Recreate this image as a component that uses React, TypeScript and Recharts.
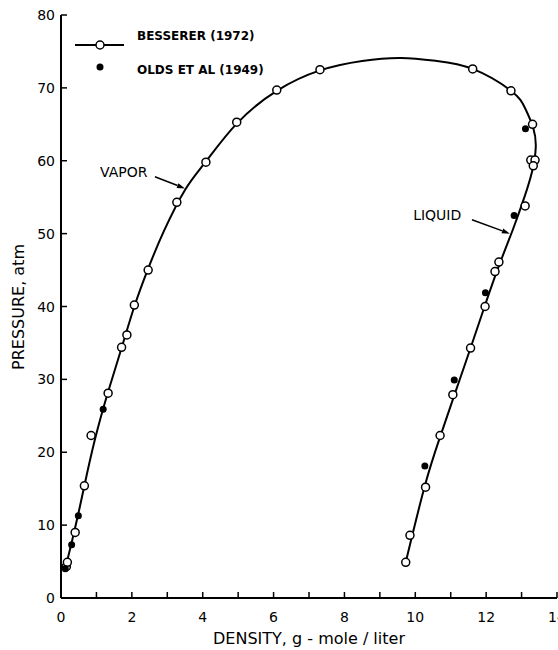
import {
  ComposedChart,
  Line,
  Scatter,
  XAxis,
  YAxis,
  Legend,
  ReferenceLine,
  ReferenceDot,
  Label,
} from "recharts";

const densityTicks = [0, 1, 2, 3, 4, 5, 6, 7, 8, 9, 10, 11, 12, 13, 14];
const pressureTicks = [0, 10, 20, 30, 40, 50, 60, 70, 80];

// [density, pressure]
const bessererPoints = [
  [0.15, 4.3], [0.18, 4.9], [0.4, 9.0], [0.66, 15.4], [0.85, 22.3],
  [1.33, 28.1], [1.71, 34.4], [1.86, 36.1], [2.07, 40.2], [2.46, 45.0],
  [3.27, 54.3], [4.09, 59.8], [4.96, 65.3], [6.09, 69.7], [7.31, 72.5],
  [11.62, 72.6], [12.7, 69.6], [13.31, 65.0], [13.26, 60.1], [13.38, 60.1],
  [13.33, 59.3], [13.1, 53.8], [12.36, 46.1], [12.25, 44.8], [11.97, 40.0],
  [11.56, 34.3], [11.06, 27.9], [10.7, 22.3], [10.29, 15.2], [9.85, 8.6],
  [9.73, 4.9],
];

const oldsPoints = [
  [0.12, 4.0], [0.3, 7.3], [0.49, 11.3], [1.19, 25.9], [13.11, 64.4],
  [12.79, 52.5], [11.98, 41.9], [11.1, 29.9], [10.27, 18.1],
];

// smoothed saturation curve, vapor branch -> critical region -> liquid branch
const curvePoints = [
  [0.12, 4.0], [0.3, 7.6], [0.49, 11.6], [0.66, 15.4], [0.95, 21.6],
  [1.33, 28.3], [1.71, 34.3], [2.07, 40.0], [2.46, 45.2],
  [2.9, 50.3], [3.5, 56.0], [4.09, 59.9], [4.96, 65.1], [6.09, 69.6],
  [7.31, 72.4], [8.5, 73.7], [9.6, 74.1], [10.6, 73.7], [11.62, 72.6],
  [12.7, 69.6], [13.1, 67.2], [13.33, 64.5], [13.4, 61.8],
  [13.3, 58.6], [13.08, 55.0], [12.75, 50.5], [12.37, 45.7], [11.97, 40.2],
  [11.56, 34.3], [11.1, 27.8], [10.7, 22.1], [10.27, 15.4],
  [9.73, 4.9],
];

const annotationLabels = ["VAPOR", "LIQUID"];
const annotationText = [[1.1, 58.4], [9.94, 52.6]];
const annotationArrows = [
  [[2.65, 57.8], [3.5, 56.2]],
  [[11.6, 51.9], [12.67, 50.0]],
];

const toXY = (pts: number[][]) => pts.map(([x, y]) => ({ x, y }));

const FONT = "'DejaVu Sans', sans-serif";

const BottomTick = (p: any) => {
  const v = p.payload.value;
  return (
    <g>
      <line x1={p.x} x2={p.x} y1={p.y} y2={p.y - 6} stroke="#000" strokeWidth={1.5} />
      {v % 2 === 0 && (
        <text x={p.x} y={p.y + 24} textAnchor="middle" fontSize={14} fontFamily={FONT} fill="#000">
          {v}
        </text>
      )}
    </g>
  );
};

const TopTick = (p: any) => (
  <line x1={p.x} x2={p.x} y1={p.y} y2={p.y + 6} stroke="#000" strokeWidth={1.5} />
);

const LeftTick = (p: any) => (
  <g>
    <line x1={p.x} x2={p.x + 6} y1={p.y} y2={p.y} stroke="#000" strokeWidth={1.5} />
    <text x={p.x - 6} y={p.y} dy="0.36em" textAnchor="end" fontSize={14} fontFamily={FONT} fill="#000">
      {p.payload.value}
    </text>
  </g>
);

const RightTick = (p: any) => (
  <line x1={p.x} x2={p.x - 6} y1={p.y} y2={p.y} stroke="#000" strokeWidth={1.5} />
);

const OpenCircle = (p: any) => (
  <circle cx={p.cx} cy={p.cy} r={4} fill="#fff" stroke="#000" strokeWidth={1.5} />
);

const FilledDot = (p: any) => <circle cx={p.cx} cy={p.cy} r={3.5} fill="#000" />;

const Arrow = (p: any) => {
  const { x1, y1, x2, y2 } = p;
  const a = Math.atan2(y2 - y1, x2 - x1);
  const L = 8;
  const w = 2.6;
  const bx = x2 - L * Math.cos(a);
  const by = y2 - L * Math.sin(a);
  const nx = -Math.sin(a) * w;
  const ny = Math.cos(a) * w;
  return (
    <g>
      <line x1={x1} y1={y1} x2={bx} y2={by} stroke="#000" strokeWidth={1.5} />
      <polygon points={`${x2},${y2} ${bx + nx},${by + ny} ${bx - nx},${by - ny}`} fill="#000" />
    </g>
  );
};

const LegendBox = () => (
  <svg width={220} height={60}>
    <line x1={5} x2={54} y1={20} y2={20} stroke="#000" strokeWidth={2} />
    <circle cx={30} cy={20} r={4} fill="#fff" stroke="#000" strokeWidth={1.5} />
    <text x={67} y={15} fontSize={12} fontWeight="bold" fontFamily={FONT} fill="#000">
      BESSERER (1972)
    </text>
    <circle cx={30} cy={42} r={3.5} fill="#000" />
    <text x={67} y={49} fontSize={12} fontWeight="bold" fontFamily={FONT} fill="#000">
      OLDS ET AL (1949)
    </text>
  </svg>
);

export default function App() {
  return (
    <div style={{ position: "absolute", left: 0, top: 0, background: "#fff" }}>
      <ComposedChart width={558} height={650} margin={{ top: 15, right: 1, bottom: 0, left: 0 }}>
        <XAxis
          xAxisId={0}
          dataKey="x"
          type="number"
          domain={[0, 14]}
          ticks={densityTicks}
          interval={0}
          tickSize={0}
          tickMargin={0}
          tick={<BottomTick />}
          height={52}
          axisLine={{ stroke: "#000", strokeWidth: 2 }}
        >
          <Label
            content={() => (
              <text x={309} y={644} textAnchor="middle" fontSize={16} fontFamily={FONT} fill="#000">
                DENSITY, g - mole / liter
              </text>
            )}
          />
        </XAxis>
        <XAxis
          xAxisId="top"
          orientation="top"
          type="number"
          domain={[0, 14]}
          ticks={densityTicks}
          interval={0}
          tickSize={0}
          tickMargin={0}
          tick={<TopTick />}
          height={0}
          axisLine={{ stroke: "#000", strokeWidth: 2 }}
        />
        <YAxis
          yAxisId={0}
          type="number"
          domain={[0, 80]}
          ticks={pressureTicks}
          interval={0}
          tickSize={0}
          tickMargin={0}
          tick={<LeftTick />}
          width={61}
          axisLine={{ stroke: "#000", strokeWidth: 2 }}
        >
          <Label
            content={() => (
              <text
                x={18}
                y={307}
                transform="rotate(-90 18 307)"
                textAnchor="middle"
                dominantBaseline="central"
                fontSize={16}
                fontFamily={FONT}
                fill="#000"
              >
                PRESSURE, atm
              </text>
            )}
          />
        </YAxis>
        <YAxis
          yAxisId="right"
          orientation="right"
          type="number"
          domain={[0, 80]}
          ticks={pressureTicks}
          interval={0}
          tickSize={0}
          tickMargin={0}
          tick={<RightTick />}
          width={0}
          axisLine={{ stroke: "#000", strokeWidth: 2 }}
        />
        <Legend
          layout="vertical"
          align="center"
          verticalAlign="middle"
          wrapperStyle={{ left: 70, top: 25, width: 220, height: 60 }}
          content={() => <LegendBox />}
        />
        <Line
          data={toXY(curvePoints)}
          dataKey="y"
          type="natural"
          stroke="#000"
          strokeWidth={2}
          dot={false}
          activeDot={false}
          isAnimationActive={false}
          legendType="none"
        />
        <Scatter
          data={toXY(bessererPoints)}
          dataKey="y"
          shape={<OpenCircle />}
          isAnimationActive={false}
        />
        <Scatter
          data={toXY(oldsPoints)}
          dataKey="y"
          shape={<FilledDot />}
          isAnimationActive={false}
        />
        {annotationArrows.map(([[x1, y1], [x2, y2]], i) => (
          <ReferenceLine
            key={`arrow-${i}`}
            segment={[{ x: x1, y: y1 }, { x: x2, y: y2 }]}
            shape={<Arrow />}
          />
        ))}
        {annotationText.map(([x, y], i) => (
          <ReferenceDot
            key={`text-${i}`}
            x={x}
            y={y}
            shape={(p: any) => (
              <text
                x={p.cx}
                y={p.cy}
                dominantBaseline="central"
                fontSize={14}
                fontFamily={FONT}
                fill="#000"
              >
                {annotationLabels[i]}
              </text>
            )}
          />
        ))}
      </ComposedChart>
    </div>
  );
}
